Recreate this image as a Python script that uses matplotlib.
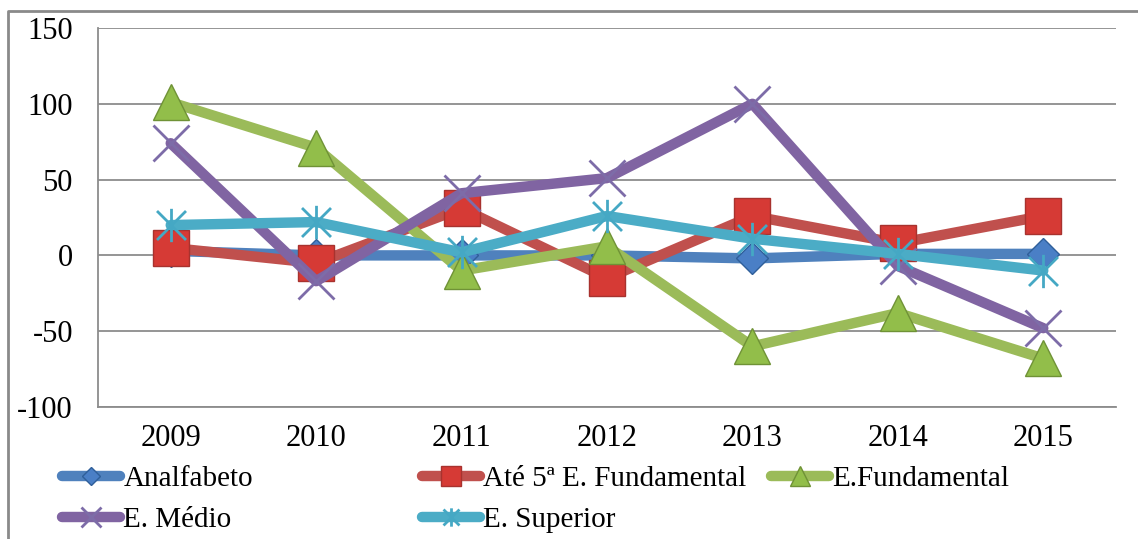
import matplotlib.pyplot as plt
from matplotlib.path import Path
from matplotlib.lines import Line2D

years = ['2009', '2010', '2011', '2012', '2013', '2014', '2015']
analfabeto = [3, 0, 0, 0, -2, 1, 1]
ate_5a = [5, -5, 31, -15, 26, 8, 26]
e_fundamental = [101, 71, -10, 6, -60, -38, -68]
e_medio = [74, -17, 41, 51, 100, -7, -48]
e_superior = [20, 22, 2, 26, 11, 1, -10]

plt.rcParams['font.family'] = ['Liberation Serif', 'DejaVu Serif']
plt.rcParams['font.size'] = 22
plt.rcParams['axes.unicode_minus'] = False

# asterisk marker like the excel one: X plus a vertical bar
star = Path([(-1, -1), (1, 1), (-1, 1), (1, -1), (0, -1.15), (0, 1.15)],
            [Path.MOVETO, Path.LINETO, Path.MOVETO, Path.LINETO, Path.MOVETO, Path.LINETO])

fig = plt.figure(figsize=(11.38, 5.39), dpi=100)
ax = fig.add_axes([98 / 1138, 1 - 407 / 539, (1116 - 98) / 1138, (407 - 28) / 539])

x = list(range(len(years)))
lw = 7.5
l1, = ax.plot(x, analfabeto, color='#4F81BD', lw=lw, solid_capstyle='round', solid_joinstyle='round',
              marker='D', ms=16, mfc='#4A7FC6', mec='#2F5F9A', mew=1)
l2, = ax.plot(x, ate_5a, color='#C0504D', lw=lw, solid_capstyle='round', solid_joinstyle='round',
              marker='s', ms=26, mfc='#D63A35', mec='#A8322E', mew=1)
l3, = ax.plot(x, e_fundamental, color='#9BBB59', lw=lw, solid_capstyle='round', solid_joinstyle='round',
              marker='^', ms=26, mfc='#92BE4A', mec='#6F9236', mew=1)
l4, = ax.plot(x, e_medio, color='#8064A2', lw=lw, solid_capstyle='round', solid_joinstyle='round',
              marker='x', ms=26, mec='#7D6CA8', mew=2)
l5, = ax.plot(x, e_superior, color='#4BACC6', lw=lw, solid_capstyle='round', solid_joinstyle='round',
              marker=star, ms=24, mfc='none', mec='#45A8C4', mew=2)

ax.set_xlim(-0.5, 6.5)
ax.set_ylim(-100, 150)
ax.set_yticks([-100, -50, 0, 50, 100, 150])
ax.set_xticks(x)
ax.set_xticklabels(years)
ax.tick_params(length=0)
ax.tick_params(axis='y', pad=18)
ax.tick_params(axis='x', pad=12)
ax.grid(axis='y', color='#8C8C8C', lw=1.3)
ax.set_axisbelow(True)
for s in ['top', 'right']:
    ax.spines[s].set_visible(False)
for s in ['left', 'bottom']:
    ax.spines[s].set_color('#8C8C8C')
    ax.spines[s].set_linewidth(1.3)

# outer chart border (only left and top visible in the crop)
fig.add_artist(Line2D([8 / 1138, 8 / 1138, 1], [0, 1 - 11 / 539, 1 - 11 / 539],
                      transform=fig.transFigure, color='#8A8A8A', lw=2))

leg_kw = dict(loc='upper left', frameon=False, borderpad=0, borderaxespad=0,
              handlelength=2.0, handletextpad=0.1, labelspacing=0.5, markerscale=0.55,
              fontsize=21)
top = 1 - 466 / 539
fig.legend([l1, l4], ['Analfabeto', 'E. Médio'], bbox_to_anchor=(62 / 1138, top), **leg_kw)
fig.legend([l2, l5], ['Até 5ª E. Fundamental', 'E. Superior'], bbox_to_anchor=(422 / 1138, top), **leg_kw)
fig.legend([l3], ['E.Fundamental'], bbox_to_anchor=(771 / 1138, top), **leg_kw)

fig.savefig('out.png', dpi=100)
